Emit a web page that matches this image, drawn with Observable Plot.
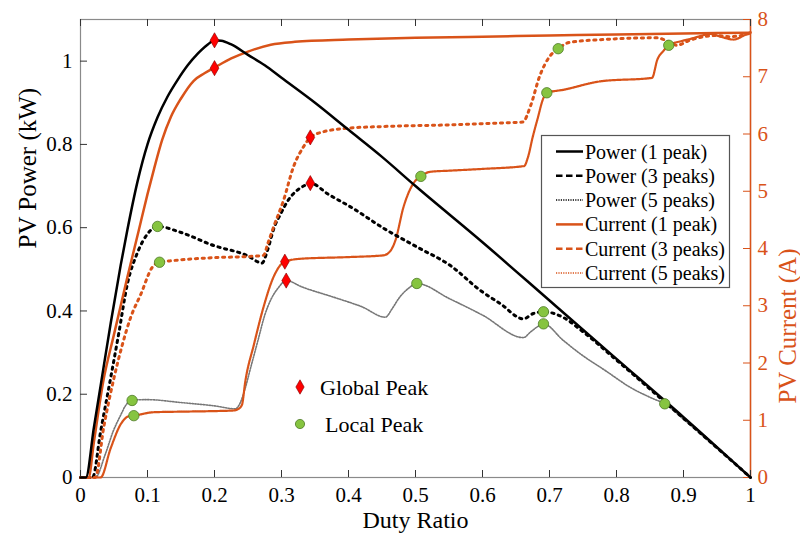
<!DOCTYPE html>
<html><head><meta charset="utf-8">
<script src="https://cdn.jsdelivr.net/npm/d3@7"></script>
<script src="https://cdn.jsdelivr.net/npm/@observablehq/plot@0.6"></script>
<style>
body{margin:0;background:#fff;}
#wrap{position:relative;width:800px;height:539px;font-family:"Liberation Serif","Times New Roman",serif;}
#wrap svg.overlay{position:absolute;left:0;top:0;pointer-events:none;}
</style></head><body><div id="wrap"></div>
<script>
// ---------- data ----------
const xTickValues = [0,0.1,0.2,0.3,0.4,0.5,0.6,0.7,0.8,0.9,1];
const powerTickValues = [0,0.2,0.4,0.6,0.8,1];
const currentTickValues = [0,1,2,3,4,5,6,7,8];

const duty1 = [0,0.008,0.02,0.03,0.045,0.06,0.07,0.085,0.1,0.115,0.13,0.145,0.16,0.175,0.19,0.2,0.21,0.225,0.25,0.275,0.3,0.35,0.4,0.45,0.5,0.6,0.7,0.8,0.9,1.0];
const power1 = [0,0,0.12,0.22,0.37,0.51,0.595,0.71,0.80,0.865,0.915,0.955,0.99,1.018,1.04,1.05,1.049,1.04,1.015,0.99,0.96,0.9,0.835,0.77,0.70,0.565,0.425,0.285,0.145,0];

const dutyI1 = [0,0.012,0.02,0.034,0.05,0.07,0.087,0.1,0.11,0.122,0.135,0.15,0.169,0.185,0.2,0.225,0.25,0.284,0.32,0.4,0.5,0.6,0.7,0.8,0.9,1.0];
const current1 = [0,0,0.62,1.68,2.5,3.5,4.32,4.95,5.4,5.9,6.3,6.62,6.93,7.06,7.16,7.32,7.44,7.56,7.61,7.65,7.68,7.7,7.72,7.74,7.755,7.77];

const duty3 = [0,0.018,0.03,0.045,0.057,0.07,0.085,0.1,0.115,0.149,0.199,0.249,0.271,0.279,0.289,0.299,0.31,0.322,0.333,0.343,0.37,0.403,0.453,0.503,0.552,0.597,0.627,0.661,0.676,0.691,0.72,0.75,0.8,0.9,1.0];
const power3 = [0,0,0.11,0.239,0.345,0.465,0.54,0.585,0.603,0.589,0.557,0.533,0.515,0.545,0.6,0.634,0.666,0.688,0.700,0.707,0.68,0.65,0.598,0.553,0.509,0.449,0.417,0.381,0.394,0.398,0.385,0.35,0.282,0.142,0];

const dutyI3 = [0,0.022,0.035,0.05,0.062,0.075,0.09,0.107,0.118,0.139,0.199,0.249,0.273,0.28,0.288,0.303,0.318,0.333,0.343,0.363,0.398,0.45,0.552,0.62,0.66,0.672,0.685,0.7,0.713,0.73,0.78,0.86,0.88,0.89,0.91,0.93,0.95,0.97,1.0];
const current3 = [0,0,0.9,1.74,2.3,2.8,3.2,3.67,3.76,3.79,3.84,3.86,3.88,4.1,4.37,4.84,5.43,5.78,5.94,6.04,6.1,6.13,6.16,6.19,6.21,6.5,7.0,7.35,7.49,7.6,7.65,7.68,7.6,7.55,7.64,7.7,7.72,7.7,7.76];

const duty5 = [0,0.022,0.037,0.049,0.06,0.067,0.077,0.1,0.15,0.2,0.231,0.238,0.245,0.255,0.265,0.275,0.285,0.295,0.307,0.33,0.378,0.42,0.455,0.465,0.475,0.49,0.502,0.55,0.6,0.661,0.672,0.682,0.691,0.72,0.746,0.785,0.821,0.855,0.872,0.9,0.95,1.0];
const power5 = [0,0,0.056,0.112,0.15,0.172,0.186,0.187,0.18,0.172,0.165,0.178,0.21,0.27,0.33,0.39,0.43,0.455,0.473,0.458,0.433,0.41,0.385,0.405,0.43,0.455,0.466,0.43,0.39,0.336,0.35,0.362,0.369,0.33,0.297,0.255,0.216,0.189,0.177,0.14,0.07,0];

const dutyI5 = [0,0.03,0.045,0.06,0.072,0.0796,0.109,0.15,0.2,0.228,0.236,0.241,0.246,0.259,0.273,0.288,0.305,0.328,0.4,0.452,0.462,0.47,0.482,0.497,0.508,0.522,0.552,0.6,0.662,0.668,0.675,0.683,0.69,0.696,0.72,0.776,0.853,0.861,0.87,0.878,0.896,0.91,0.925,0.94,0.955,0.975,0.99,1.0];
const current5 = [0,0,0.51,0.93,1.07,1.08,1.14,1.15,1.16,1.17,1.2,1.27,1.68,2.33,2.97,3.5,3.77,3.82,3.85,3.88,3.95,4.14,4.72,5.14,5.26,5.34,5.36,5.39,5.44,5.6,5.95,6.3,6.6,6.72,6.77,6.92,6.98,7.3,7.45,7.55,7.62,7.66,7.71,7.75,7.7,7.65,7.72,7.78];

const globalPowerDuty = [0.2,0.343,0.307];
const globalPower = [1.05,0.707,0.473];
const globalCurrentDuty = [0.2,0.343,0.305];
const globalCurrent = [7.15,5.94,3.77];
const localPowerDuty = [0.115,0.691,0.077,0.502,0.691,0.872];
const localPower = [0.603,0.398,0.185,0.466,0.369,0.177];
const localCurrentDuty = [0.118,0.713,0.0796,0.508,0.696,0.878];
const localCurrent = [3.76,7.49,1.08,5.26,6.72,7.55];

const legendLabels = ["Power (1 peak)","Power (3 peaks)","Power (5 peaks)","Current (1 peak)","Current (3 peaks)","Current (5 peaks)"];
const peakLabels = ["Global Peak","Local Peak"];

// ---------- layout / style ----------
const ORANGE = "#D95319";
const RED = "#FF0000";
const GREEN = "#86C440";
const W = 800, H = 539, mL = 80, mR = 50, mT = 19, mB = 62;
const innerW = W - mL - mR, innerH = H - mT - mB;
const PMAX = 1.1, IMAX = 8, S = PMAX / IMAX; // current mapped onto power axis

const pts = (xs, ys, k = 1) => xs.map((x, i) => ({x, y: ys[i] * k}));

const dash3 = "2.2,4.6";
const dot5 = "1.4,1.4";

const chart = Plot.plot({
  width: W, height: H,
  marginLeft: mL, marginRight: mR, marginTop: mT, marginBottom: mB,
  x: {domain: [0, 1]},
  y: {domain: [0, PMAX]},
  style: {fontFamily: '"Liberation Serif","Times New Roman",serif', fontSize: "21px", background: "white", overflow: "visible"},
  marks: [
    Plot.frame({stroke: "#8a8a8a", strokeWidth: 1.2}),
    Plot.ruleX([1], {stroke: ORANGE, strokeWidth: 1.5}),
    Plot.tickX(xTickValues, {x: d => d, stroke: "#333", insetTop: innerH - 7}),
    Plot.tickX(xTickValues, {x: d => d, stroke: "#333", insetBottom: innerH - 7}),
    Plot.tickY(powerTickValues, {y: d => d, stroke: "#333", insetRight: innerW - 7}),
    Plot.tickY(currentTickValues, {y: d => d * S, stroke: ORANGE, insetLeft: innerW - 7}),
    Plot.axisX({ticks: xTickValues, tickSize: 0, tickPadding: 10, tickFormat: d => String(+d.toFixed(2)), label: null, fontSize: 21, fill: "black"}),
    Plot.axisY({ticks: powerTickValues, anchor: "left", tickSize: 0, tickPadding: 8, tickFormat: d => String(+d.toFixed(2)), label: null, fontSize: 21, fill: "black"}),
    Plot.axisY({ticks: currentTickValues.map(v => v * S), anchor: "right", tickSize: 0, tickPadding: 7, tickFormat: d => String(Math.round(d / S)), label: null, fontSize: 21, fill: ORANGE}),
    Plot.text(["Duty Ratio"], {text: d => d, frameAnchor: "bottom", dy: 50, fontSize: 24, fill: "black"}),
    Plot.text(["PV Power (kW)"], {text: d => d, frameAnchor: "left", dx: -53, rotate: -90, fontSize: 25, fill: "black"}),
    Plot.text(["PV Current (A)"], {text: d => d, frameAnchor: "right", dx: 37, rotate: -90, fontSize: 25, fill: ORANGE}),
    // curves
    Plot.line(pts(duty5, power5), {x: "x", y: "y", stroke: "#777", strokeWidth: 1.6, strokeDasharray: dot5, curve: "monotone-x"}),
    Plot.line(pts(dutyI5, current5, S), {x: "x", y: "y", stroke: ORANGE, strokeWidth: 2.2, strokeDasharray: "1.6,0.7", curve: "monotone-x"}),
    Plot.line(pts(duty3, power3), {x: "x", y: "y", stroke: "black", strokeWidth: 3, strokeDasharray: dash3, curve: "monotone-x"}),
    Plot.line(pts(dutyI3, current3, S), {x: "x", y: "y", stroke: ORANGE, strokeWidth: 3, strokeDasharray: dash3, curve: "monotone-x"}),
    Plot.line(pts(dutyI1, current1, S), {x: "x", y: "y", stroke: ORANGE, strokeWidth: 2.5, curve: "monotone-x"}),
    Plot.line(pts(duty1, power1), {x: "x", y: "y", stroke: "black", strokeWidth: 2.5, curve: "monotone-x"}),
    // peaks
    Plot.dot(pts(globalPowerDuty, globalPower), {x: "x", y: "y", symbol: "diamond", r: 4.6, fill: RED, stroke: "#7a0000", strokeWidth: 0.6}),
    Plot.dot(pts(globalCurrentDuty, globalCurrent, S), {x: "x", y: "y", symbol: "diamond", r: 4.6, fill: RED, stroke: "#7a0000", strokeWidth: 0.6}),
    Plot.dot(pts(localPowerDuty, localPower), {x: "x", y: "y", r: 5.2, fill: GREEN, stroke: "#4d7a26", strokeWidth: 0.8}),
    Plot.dot(pts(localCurrentDuty, localCurrent, S), {x: "x", y: "y", r: 5.2, fill: GREEN, stroke: "#4d7a26", strokeWidth: 0.8})
  ]
});
const wrap = document.getElementById("wrap");
wrap.appendChild(chart);

// ---------- legends (overlay) ----------
const ov = d3.select(wrap).append("svg").attr("class", "overlay").attr("width", W).attr("height", H)
  .style("font-family", '"Liberation Serif","Times New Roman",serif');
const lg = ov.append("g");
lg.append("rect").attr("x", 541.5).attr("y", 135.5).attr("width", 188).attr("height", 152)
  .attr("fill", "white").attr("stroke", "#555").attr("stroke-width", 1.2);
const legendStyles = [
  {c: "black", d: null, w: 2.5}, {c: "black", d: "6.5,3.5", w: 2.5}, {c: "black", d: "1.2,1.2", w: 1.5},
  {c: ORANGE, d: null, w: 2.5}, {c: ORANGE, d: "6.5,3.5", w: 2.5}, {c: ORANGE, d: "1.2,1.2", w: 1.5}
];
legendLabels.forEach((t, i) => {
  const y = 151.5 + i * 24.3;
  const st = legendStyles[i];
  lg.append("line").attr("x1", 556).attr("x2", 583).attr("y1", y).attr("y2", y)
    .attr("stroke", st.c).attr("stroke-width", st.w).attr("stroke-dasharray", st.d);
  lg.append("text").attr("x", 585).attr("y", y + 7).attr("font-size", 20).attr("fill", "black").text(t);
});
const pk = ov.append("g");
pk.append("path").attr("d", d3.symbol(d3.symbolDiamond, 60)()).attr("transform", "translate(300,387)")
  .attr("fill", RED).attr("stroke", "#7a0000").attr("stroke-width", 0.6);
pk.append("circle").attr("cx", 300).attr("cy", 424).attr("r", 4.6).attr("fill", GREEN).attr("stroke", "#4d7a26").attr("stroke-width", 0.8);
pk.append("text").attr("x", 320).attr("y", 395).attr("font-size", 22).attr("fill", "black").text(peakLabels[0]);
pk.append("text").attr("x", 325).attr("y", 432).attr("font-size", 22).attr("fill", "black").text(peakLabels[1]);
</script></body></html>
